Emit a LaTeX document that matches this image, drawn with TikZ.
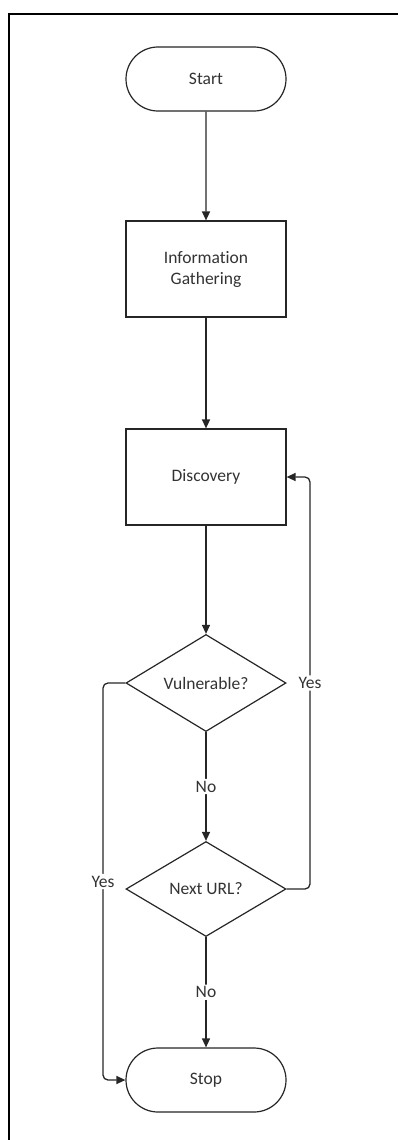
\documentclass[tikz,border=0pt]{standalone}
\usepackage{fontspec}
\setmainfont[RawFeature={-liga}]{Carlito}
\usetikzlibrary{shapes.geometric,shapes.misc,arrows.meta}
\tikzset{
  base/.style={draw=black!85, line width=1.2pt, fill=white, align=center,
    font=\fontsize{17.5}{21}\selectfont, text=black!80, inner sep=0pt},
  terminal/.style={base, rounded rectangle, minimum width=160pt, minimum height=64pt},
  process/.style={base, rectangle, minimum width=160pt, minimum height=96pt},
  decision/.style={base, diamond, minimum width=160pt, minimum height=95pt},
  flow/.style={draw=black!85, line width=1.3pt, -{Triangle[length=9pt,width=8pt]}, rounded corners=5pt},
  lab/.style={fill=white, inner sep=2pt, font=\fontsize{17.5}{21}\selectfont, text=black!80}
}
\begin{document}
\begin{tikzpicture}[x=1pt,y=-1pt]
  \useasboundingbox (0,0) rectangle (398,1140);
  \clip (0,0) rectangle (398,1140);
  % outer frame
  \draw[line width=1.6pt, black] (9,14) rectangle (430,1170);

  % flowchart nodes
  \node[terminal] (start) at (206,79) {Start};
  \node[process]  (info)  at (206,269) {Information\\Gathering};
  \node[process]  (disc)  at (206,477) {Discovery};
  \node[decision] (vuln)  at (206,683) {Vulnerable?};
  \node[decision] (next)  at (206,889) {Next URL?};
  \node[terminal] (stop)  at (206,1080) {Stop};

  % side rails for the loop-back and exit branches
  \coordinate (lx) at (103,0);
  \coordinate (rx) at (310,0);

  % main flow
  \draw[flow] (start) -- (info);
  \draw[flow] (info) -- (disc);
  \draw[flow] (disc) -- (vuln);
  \draw[flow] (vuln) -- node[lab] {No} (next);
  \draw[flow] (next) -- node[lab] {No} (stop);

  % vulnerable: go straight to stop
  \draw[flow] (vuln.west) -- (vuln.west -| lx) -- node[lab, pos=0.5] {Yes} (stop.west -| lx) -- (stop.west);

  % next url: loop back to discovery
  \draw[flow] (next.east) -- (next.east -| rx) -- node[lab, pos=0.5] {Yes} (disc.east -| rx) -- (disc.east);
\end{tikzpicture}
\end{document}
